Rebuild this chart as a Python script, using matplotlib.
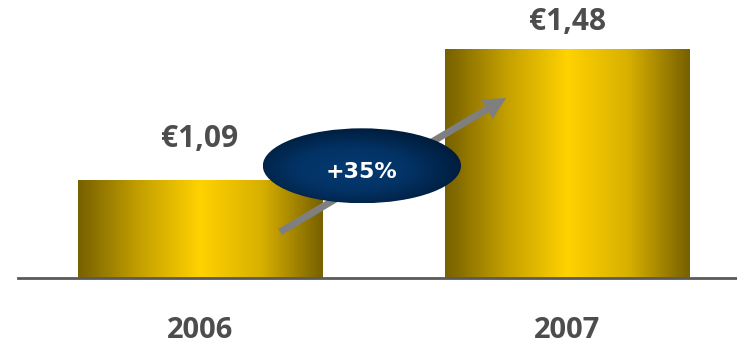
import numpy as np
import matplotlib
matplotlib.use("Agg")
import matplotlib.pyplot as plt
from matplotlib.colors import LinearSegmentedColormap
from matplotlib.patches import Ellipse

# Earnings per share by year
years = ["2006", "2007"]
eps = [1.09, 1.48]
value_labels = ["€1,09", "€1,48"]
label_gap = [0.10, 0.058]   # space between bar top and value label baseline
growth_label = "+35%"

text_grey = "#4d4d4d"
gold = LinearSegmentedColormap.from_list(
    "gold", ["#776000", "#c4a000", "#ffd200", "#d8b000", "#776000"])
navy = LinearSegmentedColormap.from_list("navy", ["#053a72", "#033366", "#001d3d"])

fig = plt.figure(figsize=(7.37, 3.47), dpi=100)
ax = fig.add_axes([18 / 737, 69 / 347, 719 / 737, 278 / 347])
ymin, ymax = 0.8, 0.8 + 278 / 336

x = np.arange(len(years))
bars = ax.bar(x, eps, width=0.665, color="none", edgecolor="none")

# horizontal metallic gradient inside each bar
grad = np.linspace(0, 1, 256).reshape(1, -1)
for b in bars:
    x0, w, h = b.get_x(), b.get_width(), b.get_height()
    ax.imshow(grad, cmap=gold, aspect="auto", interpolation="bilinear",
              extent=[x0, x0 + w, ymin, h], zorder=2)

for xi, v, gap, lab in zip(x, eps, label_gap, value_labels):
    ax.text(xi, v + gap, lab, ha="center", va="baseline", fontsize=21.5,
            fontweight="bold", family="Open Sans", color=text_grey)

for xi, lab in zip(x, years):
    ax.text(xi, ymin - 52 / 336, lab, ha="center", va="center", fontsize=21,
            fontweight="bold", family="Open Sans", color=text_grey, clip_on=False)

# growth arrow
ax.annotate("", xy=(0.834, 1.336), xytext=(0.218, 0.937), zorder=3,
            arrowprops=dict(arrowstyle="simple,head_length=0.8,head_width=0.8,tail_width=0.25",
                            mutation_scale=20, color="#7f7f7f", lw=0,
                            shrinkA=0, shrinkB=0))

# badge with the growth rate
cx, cy, ew, eh = 0.441, 1.134, 0.54, 0.223
ell = Ellipse((cx, cy), ew, eh, facecolor="none", edgecolor="none", zorder=4)
ax.add_patch(ell)
yy, xx = np.mgrid[-1:1:200j, -1:1:200j]
rad = np.clip(np.sqrt((xx + 0.1) ** 2 + (yy - 0.1) ** 2) * 0.9, 0, 1)
im = ax.imshow(rad, cmap=navy, aspect="auto", zorder=4, interpolation="bilinear",
               extent=[cx - ew / 2, cx + ew / 2, cy - eh / 2, cy + eh / 2])
im.set_clip_path(ell)
ax.text(cx, cy - 0.036, growth_label, ha="center", va="baseline", fontsize=16,
        fontweight="bold", color="white", zorder=5)

ax.set_xlim(-0.496, 1.463)
ax.set_ylim(ymin, ymax)

for s in ["top", "left", "right"]:
    ax.spines[s].set_visible(False)
ax.spines["bottom"].set_color("#5a5a5a")
ax.spines["bottom"].set_linewidth(2)
ax.spines["bottom"].set_zorder(6)
ax.set_xticks([])
ax.set_yticks([])

fig.savefig("out.png", dpi=100)
